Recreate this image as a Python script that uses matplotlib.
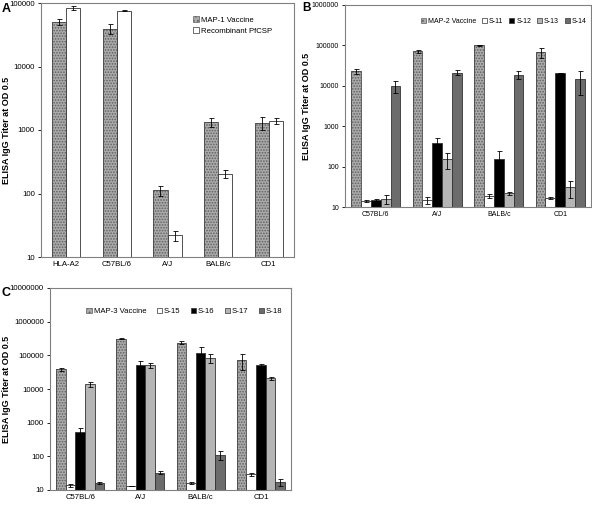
import numpy as np
import matplotlib
matplotlib.use("Agg")
import matplotlib.pyplot as plt
from matplotlib.patches import Patch

plt.rcParams['font.family'] = ['Liberation Sans', 'DejaVu Sans']
plt.rcParams['hatch.linewidth'] = 0.8

# ---- Panel A data ----
strains_a = ["HLA-A2", "C57BL/6", "A/J", "BALB/c", "CD1"]
map1 = [50000, 39000, 112, 1330, 1290]
map1_err = [5000, 7000, 20, 230, 300]
pfcsp = [84000, 76000, 21, 205, 1400]
pfcsp_err = [5000, 2000, 4, 30, 150]

# ---- Panel B data ----
strains_b = ["C57BL/6", "A/J", "BALB/c", "CD1"]
series_b = ["MAP-2 Vaccine", "S-11", "S-12", "S-13", "S-14"]
map2 = [23000, 71000, 100000, 67000]
map2_err = [3500, 5000, 1000, 17000]
s11 = [13, 14, 18, 16]
s11_err = [0.7, 3, 2, 1]
s12 = [14, 380, 150, 21000]
s12_err = [1, 130, 90, 0]
s13 = [15, 150, 21, 30]
s13_err = [4, 65, 2, 14]
s14 = [10000, 21000, 19000, 14500]
s14_err = [3500, 3000, 4000, 8500]

# ---- Panel C data ----
strains_c = ["C57BL/6", "A/J", "BALB/c", "CD1"]
series_c = ["MAP-3 Vaccine", "S-15", "S-16", "S-17", "S-18"]
map3 = [38000, 310000, 240000, 72000]
map3_err = [4000, 12000, 30000, 35000]
s15 = [13, 12.5, 15, 28]
s15_err = [1.5, 0, 1, 3]
s16 = [530, 53000, 115000, 51000]
s16_err = [170, 13000, 60000, 3000]
s17 = [14000, 51000, 84000, 21000]
s17_err = [2500, 9000, 25000, 2500]
s18 = [15, 32, 110, 16]
s18_err = [1, 3, 35, 4]

STIP_FACE = "#ababab"
STIP_HATCH = "#606060"
fills = ["stipple", "white", "black", "#b5b5b5", "#6c6c6c"]


def draw_bar(ax, x, vals, errs, fill, width):
    if fill == "stipple":
        ax.bar(x, vals, width, bottom=1, color=STIP_FACE, edgecolor=STIP_HATCH,
               hatch="......", linewidth=0, zorder=2)
        ax.bar(x, vals, width, bottom=1, fill=False, edgecolor="#444444",
               linewidth=0.6, zorder=3)
    else:
        ax.bar(x, vals, width, bottom=1, color=fill, edgecolor="#333333",
               linewidth=0.6, zorder=2)
    ax.errorbar(x, np.array(vals) + 1, yerr=errs, fmt="none", ecolor="black",
                elinewidth=0.6, capsize=1.8, capthick=0.6, zorder=4)


def handle(fill):
    if fill == "stipple":
        return Patch(facecolor=STIP_FACE, edgecolor=STIP_HATCH, hatch="....",
                     linewidth=0.5)
    return Patch(facecolor=fill, edgecolor="#333333", linewidth=0.5)


def style_axes(ax, labels, ymin, ymax, label_x, fs=5.6):
    ax.set_yscale("log")
    ax.set_ylim(ymin, ymax)
    ax.set_xlim(-0.5, len(labels) - 0.5)
    ax.set_xticks(range(len(labels)))
    ax.set_xticklabels(labels, fontsize=fs)
    ticks = [10 ** k for k in range(int(np.log10(ymin)), int(np.log10(ymax)) + 1)]
    ax.set_yticks(ticks)
    ax.set_yticklabels([str(t) for t in ticks], fontsize=fs)
    ax.yaxis.set_minor_locator(matplotlib.ticker.NullLocator())
    ax.tick_params(axis="x", length=0, pad=3)
    ax.tick_params(axis="y", length=2.5, width=0.6, pad=2)
    for s in ax.spines.values():
        s.set_color("#808080")
        s.set_linewidth(0.8)
    ax.set_ylabel("ELISA IgG Titer at OD 0.5", fontsize=6.5, fontweight="bold")
    ax.yaxis.set_label_coords(label_x, 0.5)


fig = plt.figure(figsize=(5.92, 5.05), dpi=100)

# Panel A
axA = fig.add_axes([41 / 592, 1 - 257 / 505, 253 / 592, 254 / 505])
xa = np.arange(len(strains_a))
wa = 0.28
draw_bar(axA, xa - wa / 2, map1, map1_err, "stipple", wa)
draw_bar(axA, xa + wa / 2, pfcsp, pfcsp_err, "white", wa)
style_axes(axA, strains_a, 10, 100000, (11 - 41) / 253)
axA.legend([handle("stipple"), handle("white")],
           ["MAP-1 Vaccine", "Recombinant PfCSP"], loc="upper left",
           bbox_to_anchor=(0.575, 0.975), frameon=False, fontsize=5.6,
           handlelength=0.7, handleheight=0.7, handletextpad=0.3,
           labelspacing=0.45)
fig.text(2 / 592, 1 - 12 / 505, "A", fontsize=9, fontweight="bold")

# Panel B
axB = fig.add_axes([345 / 592, 1 - 207 / 505, 246 / 592, 202 / 505])
xb = np.arange(len(strains_b))
wb = 0.16
vals_b = [map2, s11, s12, s13, s14]
errs_b = [map2_err, s11_err, s12_err, s13_err, s14_err]
for i, (v, e) in enumerate(zip(vals_b, errs_b)):
    draw_bar(axB, xb + (i - 2) * wb, v, e, fills[i], wb)
style_axes(axB, strains_b, 10, 1000000, (311 - 345) / 246, fs=5.0)
axB.legend([handle(f) for f in fills], series_b, loc="upper right",
           bbox_to_anchor=(1.0, 0.955), frameon=False, fontsize=5.0, ncol=5,
           handlelength=0.75, handleheight=0.75, handletextpad=0.3,
           columnspacing=0.8, borderaxespad=0.2)
fig.text(302 / 592, 1 - 11 / 505, "B", fontsize=8.5, fontweight="bold")

# Panel C
axC = fig.add_axes([50 / 592, 1 - 490 / 505, 241 / 592, 202 / 505])
xc = np.arange(len(strains_c))
wc = 0.16
vals_c = [map3, s15, s16, s17, s18]
errs_c = [map3_err, s15_err, s16_err, s17_err, s18_err]
for i, (v, e) in enumerate(zip(vals_c, errs_c)):
    draw_bar(axC, xc + (i - 2) * wc, v, e, fills[i], wc)
style_axes(axC, strains_c, 10, 10000000, (11 - 50) / 241)
axC.legend([handle(f) for f in fills], series_c, loc="upper right",
           bbox_to_anchor=(0.985, 0.925), frameon=False, fontsize=5.6, ncol=5,
           handlelength=0.7, handleheight=0.7, handletextpad=0.25,
           columnspacing=1.3, borderaxespad=0.2)
fig.text(2 / 592, 1 - 296 / 505, "C", fontsize=9, fontweight="bold")

fig.savefig("out.png", dpi=100)
